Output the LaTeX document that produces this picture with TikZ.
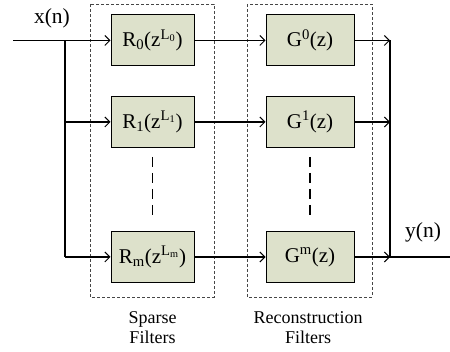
\documentclass[tikz,border=0pt]{standalone}
\usepackage{fontspec}
\setmainfont{Liberation Serif}
\usetikzlibrary{arrows.meta}
\definecolor{boxfill}{RGB}{221,225,203}
\definecolor{dashgray}{RGB}{70,70,70}
\newcommand{\boxfnt}{\fontsize{21pt}{24pt}\selectfont}
\newcommand{\lblfnt}{\fontsize{21.5pt}{25pt}\selectfont}
\newcommand{\capfnt}{\fontsize{18pt}{21pt}\selectfont}
\tikzset{
  filt/.style={draw=black, line width=1pt, fill=boxfill, minimum height=51pt, inner sep=0pt, font=\boxfnt},
  rbox/.style={filt, minimum width=83pt},
  gbox/.style={filt, minimum width=88pt},
  wire/.style={line width=1.1pt},
  arr/.style={wire, -{Straight Barb[length=5pt,width=10pt,line width=1pt]}},
  group/.style={draw=dashgray, line width=0.9pt, dash pattern=on 3pt off 2pt},
  dots/.style={line width=1.2pt, dash pattern=on 10pt off 6pt},
  lbl/.style={font=\lblfnt, inner sep=0pt},
  captxt/.style={font=\capfnt, inner sep=0pt, align=center}
}
\begin{document}
\begin{tikzpicture}[x=1pt,y=-1pt]
\useasboundingbox (0,0) rectangle (450,352);
% groups
\draw[group] (90,4) rectangle (214,297);
\draw[group] (247,4) rectangle (372,297);
% filters
\node[rbox] (r0) at (152.5,40.5) {R\textsubscript{0}(z\textsuperscript{L\textsubscript{0}})};
\node[rbox] (r1) at (152.5,122) {R\textsubscript{1}(z\textsuperscript{L\textsubscript{1}})};
\node[rbox] (rm) at (152.5,257) {R\textsubscript{m}(z\textsuperscript{L\textsubscript{m}})};
\node[gbox] (g0) at (310,40.5) {G\textsuperscript{0}(z)};
\node[gbox] (g1) at (310,122) {G\textsuperscript{1}(z)};
\node[gbox] (gm) at (310,257) {G\textsuperscript{m}(z)};
% coordinates
\coordinate (in) at (13,40.5);
\coordinate (j0) at (65,40.5);
\coordinate (j1) at (65,122);
\coordinate (jm) at (65,257);
\coordinate (o0) at (390,40.5);
\coordinate (o1) at (390,122);
\coordinate (om) at (390,257);
\coordinate (out) at (450,257);
\coordinate (d1a) at (152.5,157);
\coordinate (d1b) at (152.5,216);
\coordinate (d2a) at (310,157);
\coordinate (d2b) at (310,216);
% wires
\draw[arr] (in) -- (r0.west);
\draw[wire] (j0) -- (jm);
\draw[arr] (j1) -- (r1.west);
\draw[arr] (jm) -- (rm.west);
\draw[arr] (r0.east) -- (g0.west);
\draw[arr] (r1.east) -- (g1.west);
\draw[arr] (rm.east) -- (gm.west);
\draw[arr] (g0.east) -- (o0);
\draw[arr] (g1.east) -- (o1);
\draw[arr] (gm.east) -- (om);
\draw[wire] (o0) -- (om) -- (out);
% ellipsis dashes
\draw[dots] (d1a) -- (d1b);
\draw[dots] (d2a) -- (d2b);
% labels
\node[lbl] (xn) at (52,18) {x(n)};
\node[lbl] (yn) at (423,232) {y(n)};
\node[captxt] (sp) at (152.5,328) {Sparse\\[-1pt]Filters};
\node[captxt] (rc) at (308,328) {Reconstruction\\[-1pt]Filters};
\end{tikzpicture}
\end{document}
